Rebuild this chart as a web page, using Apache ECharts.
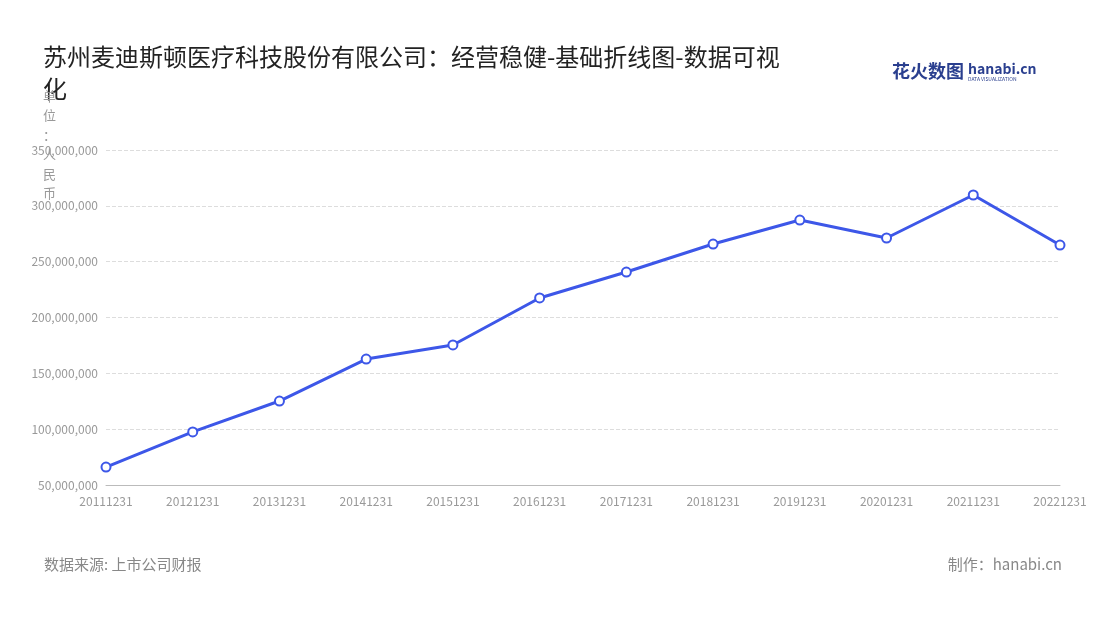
<!DOCTYPE html>
<html><head><meta charset="utf-8">
<script src="https://cdn.jsdelivr.net/npm/echarts@6/dist/echarts.min.js"></script>
<style>html,body{margin:0;padding:0;background:#fff}#c{width:1100px;height:620px}</style>
</head><body><div id="c"></div>
<script>
const categories = ['20111231','20121231','20131231','20141231','20151231','20161231','20171231','20181231','20191231','20201231','20211231','20221231'];
const values = [66100000,97500000,125200000,162800000,175400000,217500000,240700000,265800000,287300000,271200000,309700000,264900000];
const yTicks = {min:50000000,max:350000000,interval:50000000};
const yName = '单\n位\n：\n人\n民\n币';
const chart = echarts.init(document.getElementById('c'));
const font = '"Noto Sans CJK SC","Noto Sans",sans-serif';
chart.setOption({
  backgroundColor:'#fff',
  title:{text:'苏州麦迪斯顿医疗科技股份有限公司：经营稳健-基础折线图-数据可视\n化',left:38,top:36,textStyle:{fontSize:24,fontWeight:'normal',color:'#222',fontFamily:font,lineHeight:32}},
  grid:{left:106,right:40,top:150,bottom:135},
  xAxis:{type:'category',data:categories,boundaryGap:false,
    axisLine:{lineStyle:{color:'#bbb'}},axisTick:{show:false},
    axisLabel:{color:'#999',fontSize:12,fontFamily:font,margin:10}},
  yAxis:{type:'value',min:yTicks.min,max:yTicks.max,interval:yTicks.interval,
    axisLine:{show:false},axisTick:{show:false},
    splitLine:{lineStyle:{type:'dashed',color:'#ddd'}},
    axisLabel:{color:'#999',fontSize:12,fontFamily:font,formatter:v=>v.toLocaleString('en-US')}},
  series:[{type:'line',data:values,symbol:'circle',symbolSize:9,
    lineStyle:{color:'#3d57e8',width:3},
    itemStyle:{color:'#fff',borderColor:'#3d57e8',borderWidth:2}}],
  graphic:[
    {type:'text',left:43,top:86,z:10,style:{text:yName,fill:'#999',fontSize:13,lineHeight:19.5,fontFamily:font}},
    {type:'text',left:44,top:557,style:{text:'数据来源: 上市公司财报',fill:'#888',fontSize:15,fontFamily:font}},
    {type:'text',right:38,top:557,style:{text:'制作：hanabi.cn',fill:'#888',fontSize:15,fontFamily:font}},
    {type:'text',left:892,top:62,style:{text:'花火数图',fill:'#2a3f8f',fontSize:18,fontWeight:'bold',fontFamily:font}},
    {type:'text',left:968,top:62,style:{text:'hanabi.cn',fill:'#2a3f8f',fontSize:14,fontWeight:'bold',fontFamily:font}},
    {type:'text',left:968,top:77,style:{text:'DATA VISUALIZATION',fill:'#2a3f8f',fontSize:5,fontFamily:font}}
  ]
});
</script></body></html>
